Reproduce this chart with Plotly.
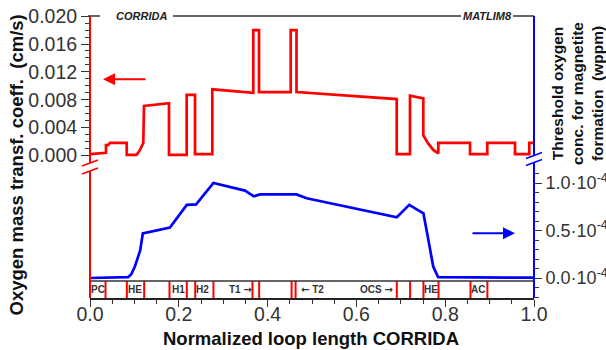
import plotly.graph_objects as go

# ---------------- data ----------------
# Oxygen mass transfer coefficient (cm/s) along normalized loop length
mtc_x = [0.0, 0.036, 0.036, 0.0405, 0.045, 0.0827, 0.0827, 0.1052, 0.1126, 0.120, 0.1216,
         0.1779, 0.1779, 0.2178, 0.2178, 0.2365, 0.2365, 0.2755, 0.2755, 0.3678, 0.3678,
         0.3806, 0.3806, 0.452, 0.452, 0.4651, 0.4651, 0.6908, 0.6908, 0.7207, 0.7207,
         0.7507, 0.7507, 0.7619, 0.7732, 0.7845, 0.7845, 0.8559, 0.8559, 0.8948, 0.8948,
         0.9572, 0.9572, 0.9894, 0.9894, 1.0]
mtc_y = [0.0002, 0.0004, 0.0015, 0.0015, 0.0018, 0.0018, 0.0001, 0.0001, 0.0008, 0.0018, 0.0071,
         0.0075, 0.0001, 0.0001, 0.0087, 0.0087, 0.0002, 0.0002, 0.0095, 0.0090, 0.0180,
         0.0180, 0.0091, 0.0091, 0.0180, 0.0180, 0.0091, 0.0081, 0.0002, 0.0002, 0.0086,
         0.0082, 0.0029, 0.0017, 0.0008, 0.0003, 0.0018, 0.0018, 0.0002, 0.0002, 0.0018,
         0.0018, 0.0002, 0.0002, 0.0018, 0.0018]

# Threshold oxygen concentration for magnetite formation (wppm)
thr_x = [0.0, 0.086, 0.093, 0.101, 0.113, 0.119, 0.180, 0.218, 0.239, 0.278, 0.349, 0.369,
         0.383, 0.465, 0.488, 0.691, 0.719, 0.751, 0.761, 0.773, 0.784, 1.0]
thr_y = [0.0, 0.01e-4, 0.04e-4, 0.12e-4, 0.29e-4, 0.47e-4, 0.53e-4, 0.77e-4, 0.775e-4, 1.0e-4,
         0.92e-4, 0.86e-4, 0.88e-4, 0.88e-4, 0.84e-4, 0.64e-4, 0.77e-4, 0.68e-4, 0.43e-4,
         0.12e-4, 0.01e-4, 0.003e-4]

# component boundaries and labels along the loop
bounds = [0.035, 0.083, 0.122, 0.179, 0.218, 0.237, 0.278, 0.366, 0.381, 0.454, 0.463,
          0.691, 0.721, 0.751, 0.785, 0.857, 0.895]
ARW_R = "<span style='font-family:DejaVu Sans'>\u2192</span>"
ARW_L = "<span style='font-family:DejaVu Sans'>\u2190</span>"
comp_names = ["PC", "HE", "H1", "H2", "T1 " + ARW_R, ARW_L + " T2", "OCS " + ARW_R, "HE", "AC"]
comp_pos = [0.019, 0.102, 0.200, 0.253, 0.338, 0.502, 0.646, 0.769, 0.873]

x_ticks = [0.0, 0.2, 0.4, 0.6, 0.8, 1.0]
y2_ticks = [0.0, 0.5e-4, 1.0e-4]
y2_ticktext = ["0.0\u00b710<sup>-4</sup>", "0.5\u00b710<sup>-4</sup>", "1.0\u00b710<sup>-4</sup>"]

# ---------------- layout helpers (pixel -> paper) ----------------
L, R, T, B = 90, 534, 16, 298
W, H = 606, 350
def px(xp):
    return (xp - L) / (R - L)
def py(yp):
    return (B - yp) / (B - T)

RED = "#ff0000"
BLUE = "#0000ff"
FONT = "Arial, Liberation Sans, sans-serif"
TICKSIZE = 19.5

fig = go.Figure()
fig.add_trace(go.Scatter(x=mtc_x, y=mtc_y, mode="lines", line=dict(color=RED, width=2.7),
                         yaxis="y", showlegend=False, hoverinfo="skip"))
fig.add_trace(go.Scatter(x=thr_x, y=thr_y, mode="lines", line=dict(color=BLUE, width=2.7),
                         yaxis="y2", showlegend=False, hoverinfo="skip"))

shapes = []
# component boundary lines in the strip
for b in bounds:
    shapes.append(dict(type="line", xref="x", yref="paper", x0=b, x1=b, y0=0, y1=py(281),
                       line=dict(color=RED, width=2)))
# strip top line
shapes.append(dict(type="line", xref="paper", yref="paper", x0=0, x1=1, y0=py(281), y1=py(281),
                   line=dict(color="#333333", width=1.5)))
# top frame line segments (broken by labels)
for a, b in [(88, 100), (173, 461), (513, 534)]:
    shapes.append(dict(type="line", xref="paper", yref="paper", x0=px(a), x1=px(b), y0=1, y1=1,
                       line=dict(color="#333333", width=1.5)))
# red left axis with break
shapes.append(dict(type="line", xref="paper", yref="paper", x0=0, x1=0, y0=1, y1=py(163),
                   line=dict(color=RED, width=2)))
shapes.append(dict(type="line", xref="paper", yref="paper", x0=0, x1=0, y0=py(171), y1=0,
                   line=dict(color=RED, width=2)))
for c in (163, 171):
    shapes.append(dict(type="line", xref="paper", yref="paper", x0=px(82), x1=px(98),
                       y0=py(c + 3), y1=py(c - 3), line=dict(color=RED, width=1.5)))
# blue right axis with break
shapes.append(dict(type="line", xref="paper", yref="paper", x0=1, x1=1, y0=1, y1=py(155),
                   line=dict(color=BLUE, width=2)))
shapes.append(dict(type="line", xref="paper", yref="paper", x0=1, x1=1, y0=py(163), y1=0,
                   line=dict(color=BLUE, width=2)))
for c in (155.5, 162.5):
    shapes.append(dict(type="line", xref="paper", yref="paper", x0=px(526), x1=px(542),
                       y0=py(c + 3), y1=py(c - 3), line=dict(color=BLUE, width=1.5)))

annotations = []
for name, pos in zip(comp_names, comp_pos):
    annotations.append(dict(x=pos, y=py(289.5), xref="x", yref="paper", text="<b>%s</b>" % name,
                            showarrow=False, xanchor="center", yanchor="middle",
                            font=dict(family=FONT, size=10, color="#333333")))
annotations.append(dict(x=px(141), y=1, xref="paper", yref="paper", text="<b><i>CORRIDA</i></b>",
                        showarrow=False, xanchor="center", yanchor="middle",
                        font=dict(family=FONT, size=11, color="#222222")))
annotations.append(dict(x=px(487), y=1, xref="paper", yref="paper", text="<b><i>MATLIM8</i></b>",
                        showarrow=False, xanchor="center", yanchor="middle",
                        font=dict(family=FONT, size=11, color="#222222")))
# arrows
annotations.append(dict(x=px(103), y=py(79.3), xref="paper", yref="paper", text="",
                        showarrow=True, ax=44, ay=0, arrowhead=2, arrowsize=1.2,
                        arrowwidth=2, arrowcolor=RED))
annotations.append(dict(x=px(515), y=py(233.3), xref="paper", yref="paper", text="",
                        showarrow=True, ax=-44, ay=0, arrowhead=2, arrowsize=1.2,
                        arrowwidth=2, arrowcolor=BLUE))
# axis titles
annotations.append(dict(x=px(15.5), y=py(165), xref="paper", yref="paper",
                        text="<b>Oxygen mass transf. coeff.  (cm/s)</b>", textangle=-90,
                        showarrow=False, xanchor="center", yanchor="middle",
                        font=dict(family=FONT, size=18.5, color="#111111")))
annotations.append(dict(x=px(578), y=py(94), xref="paper", yref="paper",
                        text="<b>Threshold oxygen<br>conc. for magnetite<br>formation  (wppm)</b>",
                        textangle=-90, showarrow=False, xanchor="center", yanchor="middle",
                        font=dict(family=FONT, size=15.5, color="#111111")))
annotations.append(dict(x=px(311), y=py(338), xref="paper", yref="paper",
                        text="<b>Normalized loop length CORRIDA</b>",
                        showarrow=False, xanchor="center", yanchor="middle",
                        font=dict(family=FONT, size=18.5, color="#111111")))

# axis ranges from pixel geometry
y_top, y_bot = 0.02, -(162 - 155.5) * 0.02 / (155.5 - 16)
y2_per_px = 1.0e-4 / (278 - 183)
y2_bot = -(298 - 278) * y2_per_px
y2_top = (278 - 165) * y2_per_px

fig.update_layout(
    width=W, height=H,
    margin=dict(l=L, r=W - R, t=T, b=H - B, pad=0, autoexpand=False),
    paper_bgcolor="white", plot_bgcolor="white",
    font=dict(family=FONT, size=18, color="#222222"),
    showlegend=False,
    shapes=shapes, annotations=annotations,
    xaxis=dict(range=[0, 1], anchor="y2", automargin=False, showgrid=False, zeroline=False,
               showline=True, linecolor="#222222", linewidth=1.5, ticks="outside", ticklen=7,
               tickwidth=1.2, tickcolor="#333333", tickvals=x_ticks, tickformat=".1f",
               ticklabelstandoff=-9,
               tickfont=dict(family=FONT, size=TICKSIZE, color="#333333"),
               minor=dict(dtick=0.05, tick0=0, ticks="outside", ticklen=4, tickwidth=1.2,
                          tickcolor="#333333")),
    yaxis=dict(domain=[py(162), 1], range=[y_bot, y_top + 0.00002], anchor="x",
               automargin=False, showgrid=False, zeroline=False, showline=False,
               ticks="outside", ticklen=8, tickwidth=1.2, tickcolor="#333333",
               tick0=0, dtick=0.004, tickformat=".3f",
               tickfont=dict(family=FONT, size=TICKSIZE, color="#333333"),
               minor=dict(dtick=0.001, tick0=0, ticks="outside", ticklen=4, tickwidth=1.2,
                          tickcolor="#333333")),
    yaxis2=dict(domain=[0, py(165)], range=[y2_bot, y2_top], anchor="x", side="right",
                automargin=False, showgrid=False, zeroline=False, showline=False,
                ticks="outside", ticklen=7, tickwidth=1.2, tickcolor="#333333",
                tickvals=y2_ticks, ticktext=y2_ticktext, ticklabelstandoff=0,
                tickfont=dict(family=FONT, size=18, color="#333333"),
                minor=dict(dtick=1e-5, tick0=0, ticks="outside", ticklen=4, tickwidth=1.2,
                           tickcolor="#333333")),
)

fig.write_html("out.html")
